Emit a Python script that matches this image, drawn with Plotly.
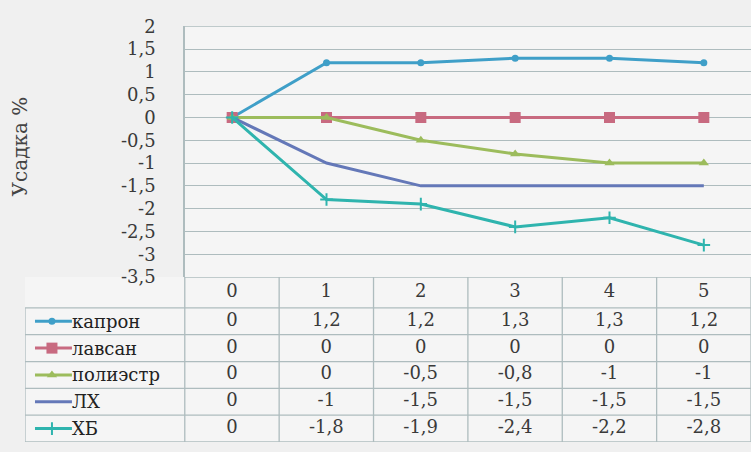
import plotly.graph_objects as go

# ---- data ----
categories = [0, 1, 2, 3, 4, 5]
series_names = ["капрон", "лавсан", "полиэстр", "ЛХ", "ХБ"]
kapron = [0, 1.2, 1.2, 1.3, 1.3, 1.2]
lavsan = [0, 0, 0, 0, 0, 0]
poliester = [0, 0, -0.5, -0.8, -1, -1]
lh = [0, -1, -1.5, -1.5, -1.5, -1.5]
hb = [0, -1.8, -1.9, -2.4, -2.2, -2.8]
y_ticks = [2, 1.5, 1, 0.5, 0, -0.5, -1, -1.5, -2, -2.5, -3, -3.5]
y_title = "Усадка %"

series_values = [kapron, lavsan, poliester, lh, hb]
colors = ["#3f9fc8", "#c86a80", "#9cbc5c", "#6478b8", "#2fb4ae"]
symbols = ["circle", "square", "triangle-up", None, "cross-thin"]
msizes = [7, 11, 9, 0, 9]

W, H = 751, 452
FONT = "DejaVu Serif"
TXT = "#3a3a3a"
GRID = "#aebcbe"


def fmt(v):
    return ("%g" % v).replace(".", ",")


plot_left, plot_top, plot_bottom = 185, 16, 279
col_w = 94.5
label_left = 25
x2_left = -0.5 - (plot_left - label_left) / col_w

fig = go.Figure()

for name, vals, c, sym, ms in zip(series_names, series_values, colors, symbols, msizes):
    marker = dict(size=ms, color=c, symbol=sym if sym else "circle",
                  line=dict(width=2 if sym == "cross-thin" else 0, color=c))
    fig.add_trace(go.Scatter(
        x=categories, y=vals, name=name,
        mode="lines+markers" if sym else "lines",
        line=dict(color=c, width=3),
        marker=marker, showlegend=False, xaxis="x", yaxis="y"))

row_edges = [-0.15, 1, 2, 3, 4, 5, 6]
shapes = []
for i, r in enumerate(row_edges):
    x0 = -0.5 if i == 0 else x2_left
    shapes.append(dict(type="line", xref="x2", yref="y2", x0=x0, x1=5.5, y0=r, y1=r,
                       line=dict(color=GRID, width=1.3)))
for k in range(len(categories) + 1):
    xv = -0.5 + k
    shapes.append(dict(type="line", xref="x2", yref="y2", x0=xv, x1=xv, y0=-0.15, y1=6,
                       line=dict(color=GRID, width=1.3)))
shapes.append(dict(type="line", xref="x2", yref="y2", x0=x2_left, x1=x2_left, y0=1, y1=6,
                   line=dict(color=GRID, width=1.3)))
shapes.append(dict(type="line", xref="paper", yref="y", x0=plot_left / W, x1=1, y0=2, y1=2,
                   line=dict(color=GRID, width=1.3)))

fig.add_trace(go.Scatter(
    x=categories, y=[0.425] * len(categories), mode="text",
    text=[str(c) for c in categories], textfont=dict(family=FONT, size=18, color=TXT),
    xaxis="x2", yaxis="y2", showlegend=False, hoverinfo="skip"))

key_x0 = -0.5 - (plot_left - 35) / col_w
key_x1 = -0.5 - (plot_left - 72) / col_w
key_xm = -0.5 - (plot_left - 52) / col_w
annotations = []
for i, (name, vals, c, sym, ms) in enumerate(zip(series_names, series_values, colors, symbols, msizes)):
    ry = i + 1.5
    fig.add_trace(go.Scatter(
        x=categories, y=[ry] * len(categories), mode="text",
        text=[fmt(v) for v in vals], textfont=dict(family=FONT, size=18, color=TXT),
        xaxis="x2", yaxis="y2", showlegend=False, hoverinfo="skip"))
    fig.add_trace(go.Scatter(
        x=[key_x0, key_x1], y=[ry, ry], mode="lines", line=dict(color=c, width=3),
        xaxis="x2", yaxis="y2", showlegend=False, hoverinfo="skip"))
    if sym:
        fig.add_trace(go.Scatter(
            x=[key_xm], y=[ry], mode="markers",
            marker=dict(size=ms, color=c, symbol=sym,
                        line=dict(width=2 if sym == "cross-thin" else 0, color=c)),
            xaxis="x2", yaxis="y2", showlegend=False, hoverinfo="skip"))
    annotations.append(dict(xref="x2", yref="y2", x=key_x1, y=ry, text=name,
                            xanchor="left", yanchor="middle", showarrow=False, xshift=-2,
                            font=dict(family=FONT, size=18, color="#222222")))

annotations.append(dict(xref="paper", yref="paper", x=20 / W, y=1 - 142 / H, text=y_title,
                        textangle=-90, showarrow=False, xanchor="center", yanchor="middle",
                        font=dict(family=FONT, size=20, color="#444444")))

dom_y_main = [1 - plot_bottom / H, 1 - plot_top / H]
fig.update_layout(
    width=W, height=H, margin=dict(l=0, r=0, t=0, b=0),
    font=dict(family=FONT),
    paper_bgcolor="#f0f0f0", plot_bgcolor="#f5f5f5",
    shapes=shapes, annotations=annotations,
    xaxis=dict(domain=[plot_left / W, 1], range=[-0.5, 5.5], showgrid=False,
               showticklabels=False, zeroline=False, showline=False, fixedrange=True),
    yaxis=dict(domain=dom_y_main, range=[-3.5, 2], tickvals=y_ticks,
               ticktext=[fmt(t) for t in y_ticks], showgrid=True, gridcolor=GRID,
               gridwidth=1.3, zeroline=False, showline=True, linecolor=GRID, linewidth=1.5,
               ticks="", ticklabelstandoff=24,
               tickfont=dict(family=FONT, size=18, color=TXT)),
    xaxis2=dict(domain=[label_left / W, 1], range=[x2_left, 5.5], visible=False,
                anchor="y2"),
    yaxis2=dict(domain=[0, 1 - plot_bottom / H], range=[6, -0.15], visible=False,
                anchor="x2"),
)

fig.write_html("out.html")
